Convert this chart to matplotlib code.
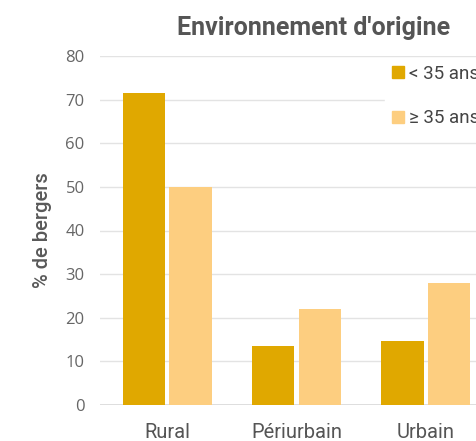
import numpy as np
import matplotlib
matplotlib.use('Agg')
import matplotlib.pyplot as plt
from matplotlib.lines import Line2D

# Data
categories = ['Rural', 'Périurbain', 'Urbain']
under_35 = [71.5, 13.5, 14.7]
over_35 = [50, 22, 28]
series_labels = ['< 35 ans', '≥ 35 ans']
yticks = [0, 10, 20, 30, 40, 50, 60, 70, 80]

DARK = '#E0A800'
LIGHT = '#FDCE80'

fig = plt.figure(figsize=(4.76, 4.41), dpi=100)
# axes runs past the right edge, the reference is a cropped chart
ax = fig.add_axes([100/476, 36/441, 393/476, 349/441])

x = np.arange(len(categories))
w = 0.325
ax.bar(x - 0.18, under_35, w, color=DARK, zorder=3)
ax.bar(x + 0.18, over_35, w, color=LIGHT, zorder=3)

ax.set_xlim(-0.52, 2.52)
ax.set_ylim(0, 80)
ax.set_yticks(yticks)
ax.set_xticks(x)
ax.set_xticklabels(categories, fontfamily='Roboto', fontsize=14.5, color='#555555')
for lab in ax.get_yticklabels():
    lab.set_fontfamily('Open Sans')
    lab.set_fontsize(12)
    lab.set_color('#666666')
ax.tick_params(axis='y', length=0, pad=11)
ax.tick_params(axis='x', length=0, pad=13)

ax.grid(axis='y', color='#e3e3e3', linewidth=1, zorder=0)
for s in ax.spines.values():
    s.set_visible(False)
ax.axhline(0, color='#d9d9d9', linewidth=1.2, zorder=2)

ax.set_ylabel('% de bergers', fontfamily='Roboto', fontweight='medium',
              fontsize=14.5, color='#595959', labelpad=10)

fig.text(314/476, 1 - 28/441, "Environnement d'origine", ha='center', va='center',
         fontfamily='Roboto', fontweight='bold', fontsize=18, color='#555555')

handles = [Line2D([], [], marker='s', linestyle='', markersize=8, color=c)
           for c in (DARK, LIGHT)]
fig.legend(handles, series_labels, loc='upper left',
           bbox_to_anchor=(376/476, 1 - 50/441), frameon=True, facecolor='white',
           edgecolor='white', framealpha=1, fancybox=False,
           prop={'family': 'Roboto', 'size': 13.5}, labelcolor='#444444',
           labelspacing=1.4, handlelength=0.7, handletextpad=0.25, borderpad=0.3)

fig.savefig('out.png', dpi=100)
